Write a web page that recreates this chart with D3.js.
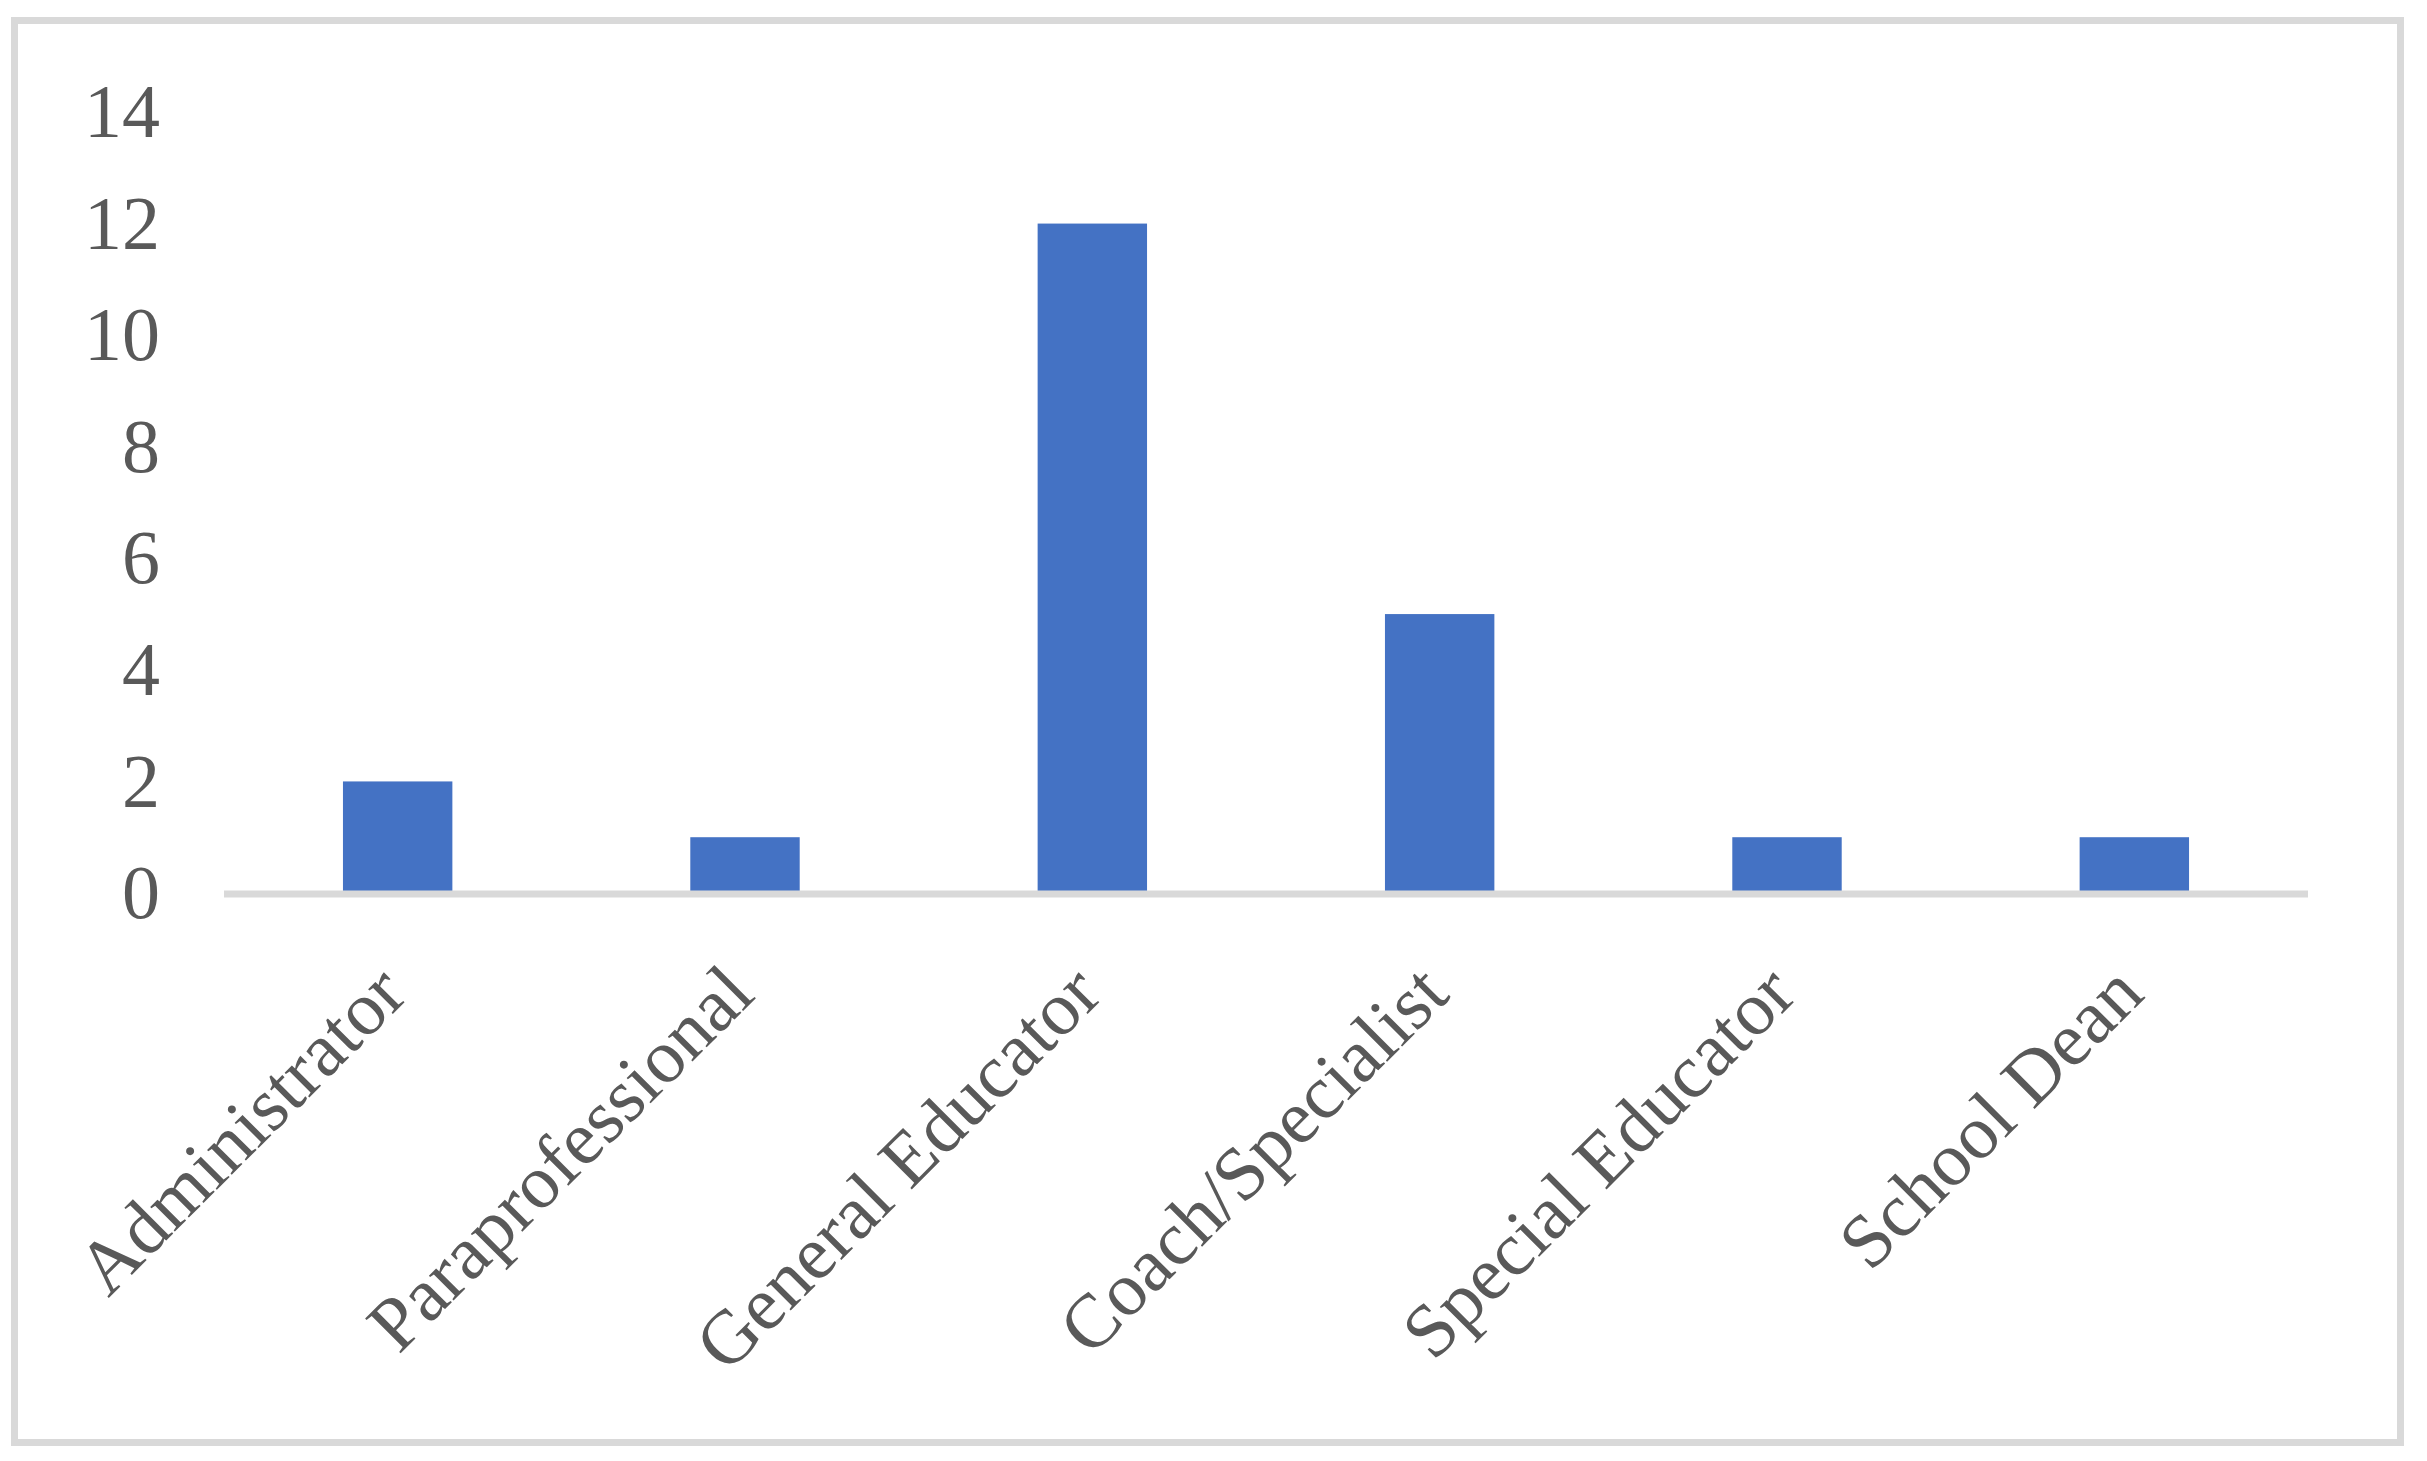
<!DOCTYPE html>
<html>
<head>
<meta charset="utf-8">
<script src="https://cdn.jsdelivr.net/npm/d3@7/dist/d3.min.js"></script>
<style>
  html, body { margin: 0; padding: 0; background: #fff; }
  svg { display: block; }
</style>
</head>
<body>
<div id="chart"></div>
<script>
// data
var roles = ["Administrator", "Paraprofessional", "General Educator",
             "Coach/Specialist", "Special Educator", "School Dean"];
var counts = [2, 1, 12, 5, 1, 1];
var yTicks = [0, 2, 4, 6, 8, 10, 12, 14];

var width = 2427, height = 1461;
var font = "'Liberation Serif', 'Times New Roman', serif";

var svg = d3.select("#chart")
  .append("svg")
  .attr("width", width)
  .attr("height", height);

// outer frame
svg.append("rect")
  .attr("x", 14.5)
  .attr("y", 20.5)
  .attr("width", 2386)
  .attr("height", 1422)
  .style("fill", "#fff")
  .style("stroke", "#d9d9d9")
  .style("stroke-width", 7);

var x = d3.scaleBand()
  .domain(roles)
  .range([224, 2308])
  .padding(0);

var y = d3.scaleLinear()
  .domain([0, 14])
  .range([893, 112]);

var barW = x.bandwidth() * 0.315;

// bars
svg.selectAll(".bar")
  .data(roles)
  .enter().append("rect")
  .attr("class", "bar")
  .attr("x", function(d) { return x(d) + x.bandwidth() / 2 - barW / 2; })
  .attr("y", function(d, i) { return y(counts[i]); })
  .attr("width", barW)
  .attr("height", function(d, i) { return y(0) - y(counts[i]); })
  .style("fill", "#4472c4");

// baseline
svg.append("line")
  .attr("x1", x.range()[0])
  .attr("x2", x.range()[1])
  .attr("y1", y(0) + 1)
  .attr("y2", y(0) + 1)
  .style("stroke", "#d9d9d9")
  .style("stroke-width", 7);

// y tick labels
svg.selectAll(".ytick")
  .data(yTicks)
  .enter().append("text")
  .attr("class", "ytick")
  .attr("x", 160)
  .attr("y", function(d) { return y(d); })
  .attr("dy", "0.33em")
  .attr("text-anchor", "end")
  .style("font-family", font)
  .style("font-size", "76px")
  .style("fill", "#595959")
  .text(function(d) { return d; });

// rotated category labels
svg.selectAll(".xlab")
  .data(roles)
  .enter().append("text")
  .attr("class", "xlab")
  .attr("transform", function(d) {
    var cx = x(d) + x.bandwidth() / 2 + 12;
    return "translate(" + cx + ",997) rotate(-45)";
  })
  .attr("text-anchor", "end")
  .style("font-family", font)
  .style("font-size", "76px")
  .style("fill", "#595959")
  .text(function(d) { return d; });
</script>
</body>
</html>
